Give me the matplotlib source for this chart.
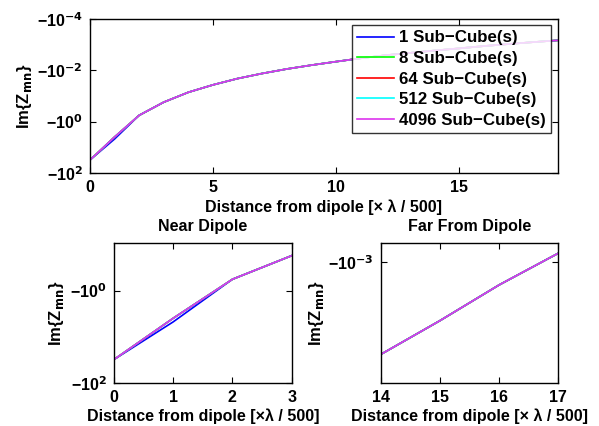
import matplotlib
matplotlib.use("Agg")
import matplotlib.pyplot as plt
from matplotlib.ticker import FixedLocator, FixedFormatter, NullLocator

plt.rcParams['font.family'] = ['Liberation Sans', 'DejaVu Sans']
plt.rcParams['font.weight'] = 'bold'
plt.rcParams['mathtext.default'] = 'bf'

# Distance from dipole (x lambda/500)
distance = [0, 1, 2, 3, 4, 5, 6, 7, 8, 9, 10, 11, 12, 13, 14, 15, 16, 17, 18, 19]

# Magnitude of Im{Zmn} (values are negative: Im = -magnitude)
mag_1 = [31.6, 4.8, 0.57, 0.175, 0.072, 0.037, 0.021, 0.0133, 0.0089, 0.0063,
         0.0046, 0.0034, 0.0026, 0.0021, 0.0017, 0.0014, 0.00114, 0.00095, 0.0008, 0.00068]
mag_8 = [31.6, 4.0, 0.57, 0.175, 0.072, 0.037, 0.021, 0.0133, 0.0089, 0.0063,
         0.0046, 0.0034, 0.0026, 0.0021, 0.0017, 0.0014, 0.00114, 0.00095, 0.0008, 0.00068]
mag_64 = [31.6, 4.0, 0.57, 0.175, 0.072, 0.037, 0.021, 0.0133, 0.0089, 0.0063,
          0.0046, 0.0034, 0.0026, 0.0021, 0.0017, 0.0014, 0.00114, 0.00095, 0.0008, 0.00068]
mag_512 = [31.6, 4.0, 0.57, 0.175, 0.072, 0.037, 0.021, 0.0133, 0.0089, 0.0063,
           0.0046, 0.0034, 0.0026, 0.0021, 0.0017, 0.0014, 0.00114, 0.00095, 0.0008, 0.00068]
mag_4096 = [31.6, 4.0, 0.57, 0.175, 0.072, 0.037, 0.021, 0.0133, 0.0089, 0.0063,
            0.0046, 0.0034, 0.0026, 0.0021, 0.0017, 0.0014, 0.00114, 0.00095, 0.0008, 0.00068]

labels = ['1 Sub\u2212Cube(s)', '8 Sub\u2212Cube(s)', '64 Sub\u2212Cube(s)',
          '512 Sub\u2212Cube(s)', '4096 Sub\u2212Cube(s)']
colors = ['#0000ff', '#00ff00', '#ff0000', '#00ffff', '#dd33ee']
series = [mag_1, mag_8, mag_64, mag_512, mag_4096]

FS = 11.5

fig = plt.figure(figsize=(5.99, 4.26), dpi=100)

ax_top = fig.add_axes([0.150, 0.594, 0.781, 0.3615])
ax_near = fig.add_axes([0.190, 0.1016, 0.297, 0.327])
ax_far = fig.add_axes([0.6356, 0.1016, 0.2965, 0.327])

def tlabel(k):
    s = str(k).replace('-', '\u2212')
    return '\u221210$^{\\mathsf{' + s + '}}$'

def style(ax, yticks, exps, ylab_x):
    ax.set_yscale('log')
    ax.yaxis.set_major_locator(FixedLocator(yticks))
    ax.yaxis.set_major_formatter(FixedFormatter([tlabel(k) for k in exps]))
    ax.yaxis.set_minor_locator(NullLocator())
    ax.tick_params(axis='both', which='major', direction='in', length=4,
                   labelsize=FS, width=0.8, top=True, right=True, pad=5)
    for s in ax.spines.values():
        s.set_linewidth(1.0)
    ax.set_ylabel('Im{Z$_{\\mathbf{mn}}$}', fontsize=FS + 0.5, fontweight='bold')
    ax.yaxis.set_label_coords(ylab_x, 0.5)

for m, c, l in zip(series, colors, labels):
    ax_top.plot(distance, m, color=c, lw=1.2, label=l)
ax_top.set_xlim(0, 19)
ax_top.set_ylim(100, 1e-4)
style(ax_top, [1e2, 1e0, 1e-2, 1e-4], [2, 0, -2, -4], -0.12)
ax_top.set_xticks([0, 5, 10, 15])
ax_top.set_xlabel('Distance from dipole [\u00d7 \u03bb / 500]', fontsize=FS, fontweight='bold', labelpad=3)
leg = ax_top.legend(loc='upper right', fontsize=12.2, frameon=True, fancybox=False,
                    edgecolor='black', borderpad=0.3, labelspacing=0.33,
                    handlelength=2.2, handletextpad=0.3, borderaxespad=0.38)
leg.get_frame().set_linewidth(1.0)

for m, c in zip(series, colors):
    ax_near.plot(distance, m, color=c, lw=1.2)
ax_near.set_xlim(0, 3)
ax_near.set_ylim(100, 0.095)
style(ax_near, [1e2, 1e0], [2, 0], -0.27)
ax_near.set_xticks([0, 1, 2, 3])
ax_near.set_xlabel('Distance from dipole [\u00d7\u03bb / 500]', fontsize=FS, fontweight='bold', labelpad=3)
ax_near.set_title('Near Dipole', fontsize=FS, fontweight='bold', pad=9)

for m, c in zip(series, colors):
    ax_far.plot(distance, m, color=c, lw=1.2)
ax_far.set_xlim(14, 17)
ax_far.set_ylim(0.002, 0.000898)
style(ax_far, [1e-3], [-3], -0.31)
ax_far.set_xticks([14, 15, 16, 17])
ax_far.set_xlabel('Distance from dipole [\u00d7 \u03bb / 500]', fontsize=FS, fontweight='bold', labelpad=3)
ax_far.set_title('Far From Dipole', fontsize=FS, fontweight='bold', pad=9)

fig.savefig('out.png', dpi=100)
